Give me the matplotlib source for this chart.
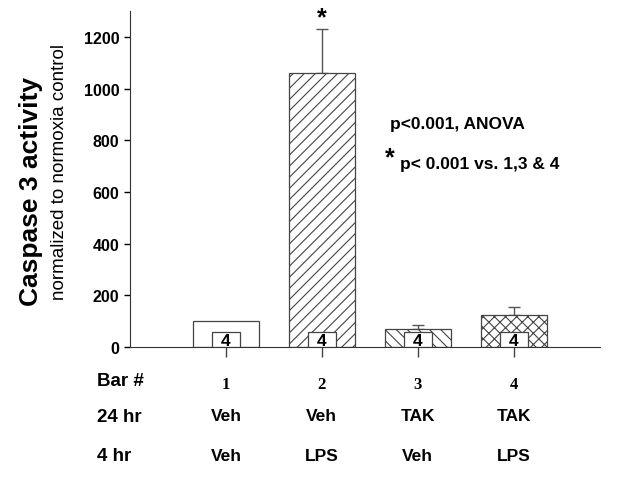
import matplotlib
matplotlib.use("Agg")
from matplotlib import pyplot as plt

# datos
barras = [1, 2, 3, 4]
valores = [100, 1062, 68, 122]
errores = [0, 170, 18, 32]
n_por_barra = [4, 4, 4, 4]
tramas = ["", "///", "\\\\\\", "xxx"]
fila_24hr = ["Veh", "Veh", "TAK", "TAK"]
fila_4hr = ["Veh", "LPS", "Veh", "LPS"]

plt.rcParams["font.family"] = ["Liberation Sans", "DejaVu Sans"]
plt.rcParams["hatch.linewidth"] = 0.8
plt.rcParams["hatch.color"] = "#333333"

W, H = 633, 481
fig = plt.figure(figsize=(W / 100, H / 100), dpi=100)
ax = fig.add_axes([130 / W, 1 - 348 / H, 470 / W, 336 / H])

ancho = 0.69
for x, v, e, t in zip(barras, valores, errores, tramas):
    ax.bar(x, v, width=ancho, color="white", edgecolor="#444444",
           linewidth=0.9, hatch=t, zorder=2)
    if e > 0:
        ax.errorbar(x, v, yerr=[[0], [e]], fmt="none", ecolor="#555555",
                    elinewidth=1, capsize=4, capthick=1, zorder=1)

# cajitas con el numero de muestras
for x, n in zip(barras, n_por_barra):
    ax.bar(x, 58, width=0.29, color="white", edgecolor="#444444",
           linewidth=0.9, zorder=3)
    ax.text(x, 27, str(n), ha="center", va="center", fontsize=12.5,
            fontweight="bold", zorder=4)

ax.set_xlim(0, 4.9)
ax.set_ylim(0, 1300)
ax.set_yticks([0, 200, 400, 600, 800, 1000, 1200])
ax.set_xticks(barras)
ax.set_xticklabels([])
ax.tick_params(axis="x", direction="out", length=7, width=1, color="#444444")
ax.tick_params(axis="y", direction="out", length=4, width=1, labelsize=11.5)
for lbl in ax.get_yticklabels():
    lbl.set_fontweight("bold")
ax.spines["top"].set_visible(False)
ax.spines["right"].set_visible(False)
ax.spines["left"].set_color("#333333")
ax.spines["bottom"].set_color("#333333")

# asterisco sobre la barra 2
ax.text(2, 1275, "*", ha="center", va="center", fontsize=18,
        fontweight="bold", clip_on=False)

# etiquetas del eje y
fig.text(31 / W, 1 - 191 / H, "Caspase 3 activity", rotation=90,
         ha="center", va="center", fontsize=19, fontweight="bold")
fig.text(60 / W, 1 - 172 / H, "normalized to normoxia control", rotation=90,
         ha="center", va="center", fontsize=13.5)

# texto estadistico
fig.text(390 / W, 1 - 125 / H, "p<0.001, ANOVA", ha="left", va="center",
         fontsize=12.5, fontweight="bold")
fig.text(385 / W, 1 - 158 / H, "*", ha="left", va="center",
         fontsize=18, fontweight="bold")
fig.text(400 / W, 1 - 165 / H, "p< 0.001 vs. 1,3 & 4", ha="left",
         va="center", fontsize=12.5, fontweight="bold")

# filas de condiciones
fig.text(97 / W, 1 - 382 / H, "Bar #", ha="left", va="center",
         fontsize=13.5, fontweight="bold")
fig.text(97 / W, 1 - 418 / H, "24 hr", ha="left", va="center",
         fontsize=13.5, fontweight="bold")
fig.text(97 / W, 1 - 457 / H, "4 hr", ha="left", va="center",
         fontsize=13.5, fontweight="bold")

for x, a, b in zip(barras, fila_24hr, fila_4hr):
    xf = ax.transData.transform((x, 0))[0] / W
    fig.text(xf, 1 - 385 / H, str(x), ha="center", va="center",
             fontsize=12, family="Liberation Serif", fontweight="bold")
    fig.text(xf, 1 - 417 / H, a, ha="center", va="center",
             fontsize=12.5, fontweight="bold")
    fig.text(xf, 1 - 457 / H, b, ha="center", va="center",
             fontsize=12.5, fontweight="bold")

fig.savefig("out.png", dpi=100)
